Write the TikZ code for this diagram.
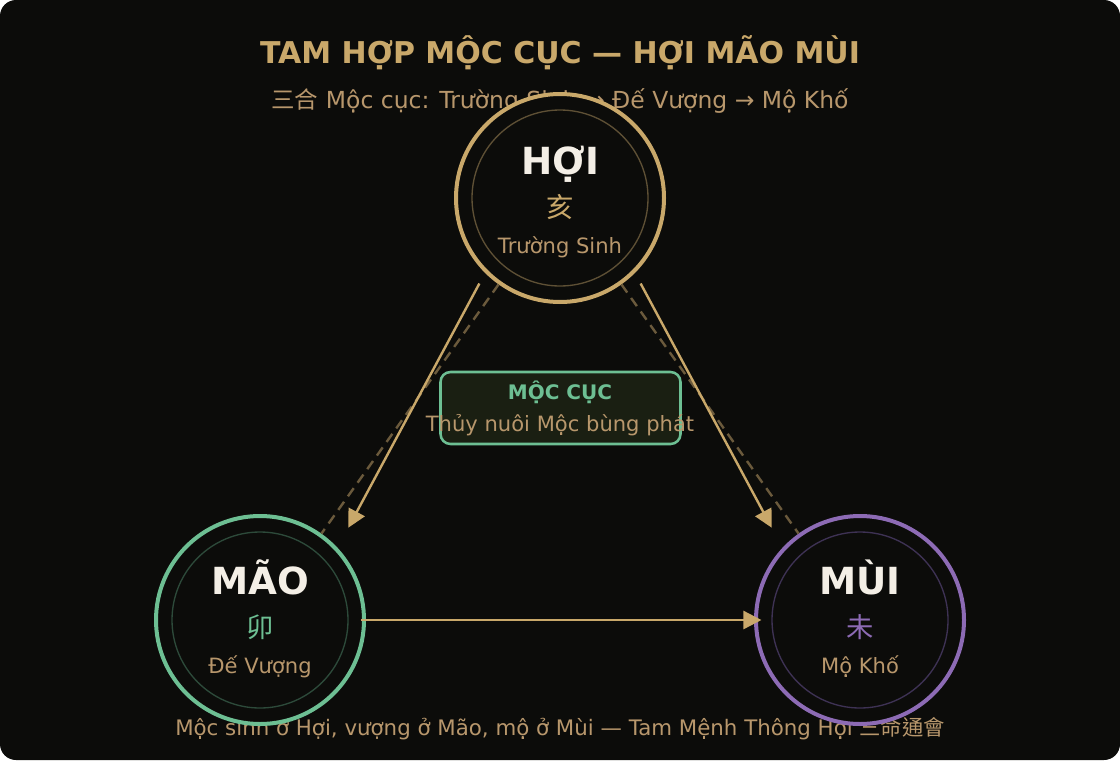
\documentclass[tikz,border=0pt]{standalone}
\usepackage{fontspec}
\setmainfont{DejaVu Sans}
\newfontfamily\cjkfont{Noto Sans CJK TC}
\newfontfamily\arrowfont{DejaVu Sans}
\usetikzlibrary{arrows.meta}

\definecolor{bgc}{HTML}{0C0C0A}
\definecolor{goldc}{HTML}{C9A86A}
\definecolor{tanc}{HTML}{B8976C}
\definecolor{namec}{HTML}{F4EFE6}
\definecolor{dashc}{HTML}{6B5A3C}
\definecolor{moc}{HTML}{6DBF93}
\definecolor{mocdark}{HTML}{2D4A3A}
\definecolor{thoc}{HTML}{8D6BB5}
\definecolor{thodark}{HTML}{3E3254}
\definecolor{hoidark}{HTML}{5E5035}
\definecolor{boxc}{HTML}{1A1F12}

\newcommand{\ra}{{\arrowfont →}}

\begin{document}
\begin{tikzpicture}[x=0.75pt,y=-0.75pt,
  every node/.style={inner sep=0pt},
  branch/.style={circle, draw=#1, line width=3pt, fill=bgc, minimum size=156pt},
  ring/.style={circle, draw=#1, line width=1pt, minimum size=132pt},
  bname/.style={anchor=base, text=namec, font=\bfseries\fontsize{28}{30}\selectfont},
  bchar/.style={text=#1, font=\cjkfont\fontsize{20.5}{22}\selectfont},
  bstage/.style={anchor=base, text=tanc, font=\fontsize{15.8}{18}\selectfont},
  link/.style={draw=dashc, line width=1.8pt, dash pattern=on 7.5pt off 5pt},
  flow/.style={draw=goldc, line width=1.8pt, -{Triangle[length=13.5pt,width=13.5pt]}}]
\useasboundingbox (0,0) rectangle (1120,760);
\fill[white] (0,0) rectangle (1120,760);
\fill[bgc, rounded corners=12pt] (0,0) rectangle (1120,760);

% headings
\node[anchor=base, text=goldc, font=\bfseries\fontsize{22.5}{26}\selectfont] (title) at (560,63)
  {TAM HỢP MỘC CỤC — HỢI MÃO MÙI};
\node[anchor=base, text=tanc, font=\fontsize{17.6}{20}\selectfont] (sub) at (560,108)
  {{\cjkfont 三合} Mộc cục: Trường Sinh \ra{} Đế Vượng \ra{} Mộ Khố};
\node[anchor=base, text=tanc, font=\fontsize{16}{18}\selectfont] (note) at (560,735)
  {Mộc sinh ở Hợi, vượng ở Mão, mộ ở Mùi — Tam Mệnh Thông Hội {\cjkfont 三命通會}};

% three branches
\node[branch=goldc] (hoi) at (560,198) {};
\node[branch=moc] (mao) at (260,620) {};
\node[branch=thoc] (mui) at (860,620) {};
\node[ring=hoidark] at (hoi) {};
\node[ring=mocdark] at (mao) {};
\node[ring=thodark] at (mui) {};

\path[link] (hoi) -- (mao);
\path[link] (hoi) -- (mui);

% centre box
\node[draw=moc, line width=1.9pt, fill=boxc, rounded corners=7.5pt,
  minimum width=180pt, minimum height=54pt] (cuc) at (560.5,408) {};
\node[anchor=base, text=moc, font=\bfseries\fontsize{15}{18}\selectfont] (cuct) at (560,399) {MỘC CỤC};
\node[anchor=base, text=tanc, font=\fontsize{15.8}{18}\selectfont] (cucs) at (560,431) {Thủy nuôi Mộc bùng phát};

\node[bname] (hoin) at (560,174) {HỢI};
\node[bchar=goldc] (hoic) at (560,207) {亥};
\node[bstage] (hois) at (560,253) {Trường Sinh};

\node[bname] (maon) at (260,594) {MÃO};
\node[bchar=moc] (maoc) at (260,627) {卯};
\node[bstage] (maos) at (260,673) {Đế Vượng};

\node[bname] (muin) at (860,594) {MÙI};
\node[bchar=thoc] (muic) at (860,627) {未};
\node[bstage] (muis) at (860,673) {Mộ Khố};

\path[flow, shorten <=9pt, shorten >=17pt] (hoi.225.4) -- (mao.43);
\path[flow, shorten <=9pt, shorten >=17pt] (hoi.-45.4) -- (mui.137);
\path[flow, shorten <=-4pt, shorten >=-5.6pt] (mao.east) -- (mui.west);
\end{tikzpicture}
\end{document}
